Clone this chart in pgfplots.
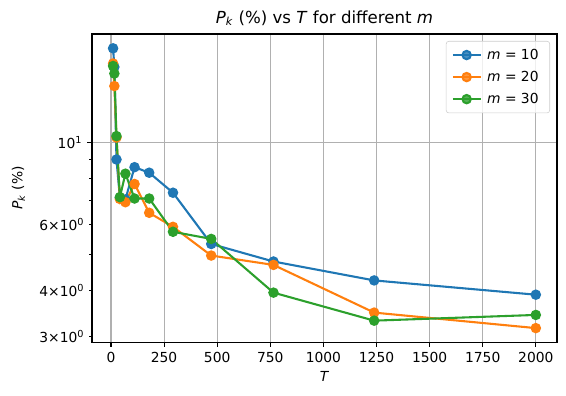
\documentclass[border=0pt]{standalone}
\usepackage{fontspec}
\setmainfont{DejaVu Sans}
\usepackage{pgfplots}
\pgfplotsset{compat=1.18}
\definecolor{cblue}{HTML}{1F77B4}
\definecolor{corange}{HTML}{FF7F0E}
\definecolor{cgreen}{HTML}{2CA02C}
\definecolor{gridgray}{HTML}{B0B0B0}

\begin{document}
\begin{tikzpicture}
\begin{axis}[
    scale only axis,
    width=334.8bp, height=221.8bp,
    xmin=-89.5, xmax=2099.5,
    ymode=log, ymin=2.897, ymax=19.65,
    xtick={0,250,...,2000},
    ytick={10}, yticklabels={10\textsuperscript{1}},
    minor ytick={3,4,5,6,7,8,9},
    extra y ticks={3,4,6},
    extra y tick labels={3\texttimes10\textsuperscript{0},4\texttimes10\textsuperscript{0},6\texttimes10\textsuperscript{0}},
    extra y tick style={grid=none, major tick length=2bp},
    xmajorgrids=true, ymajorgrids=true,
    grid style={color=gridgray, line width=0.8bp},
    tick align=outside, tick pos=left,
    major tick length=3.5bp, minor tick length=2bp,
    every tick/.style={black, line width=0.8bp},
    axis line style={line width=0.8bp},
    ticklabel style={font=\fontsize{10}{12}\selectfont},
    /pgf/number format/assume math mode=true,
    /pgf/number format/1000 sep={},
    title={\textit{P}\textsubscript{\textit{k}} (\%) vs \textit{T} for different \textit{m}},
    title style={font=\fontsize{12}{14}\selectfont, yshift=-3.5bp},
    xlabel={\textit{T}},
    ylabel={\textit{P}\textsubscript{\textit{k}} (\%)},
    label style={font=\fontsize{10}{12}\selectfont},
    every axis plot/.append style={line width=1.5bp, mark=*, mark size=3bp},
    legend style={at={(0.985,0.9775)}, anchor=north east, draw=black!20,
        rounded corners=2pt, fill=white, fill opacity=0.8, text opacity=1,
        font=\fontsize{10}{12}\selectfont, row sep=3bp, inner xsep=4bp, inner ysep=3.5bp,
        nodes={inner xsep=4bp}},
    legend cell align=left,
    legend image code/.code={\draw[mark repeat=2,mark phase=2] plot coordinates {(0bp,0bp)(10bp,0bp)(20bp,0bp)};},
]
\addplot[color=cblue, mark options={fill=cblue, draw=cblue}] coordinates {
    (10,17.98) (16,16.01) (26,9.01) (42,7.11) (68,7.03) (111,8.59)
    (180,8.30) (292,7.33) (472,5.33) (765,4.78) (1239,4.25) (2000,3.89)};
\addplot[color=corange, mark options={fill=corange, draw=corange}] coordinates {
    (10,16.36) (16,14.22) (26,10.33) (42,7.05) (68,6.91) (111,7.74)
    (180,6.47) (292,5.93) (472,4.96) (765,4.68) (1239,3.48) (2000,3.16)};
\addplot[color=cgreen, mark options={fill=cgreen, draw=cgreen}] coordinates {
    (10,16.11) (16,15.37) (26,10.42) (42,7.13) (68,8.25) (111,7.07)
    (180,7.07) (292,5.75) (472,5.50) (765,3.94) (1239,3.31) (2000,3.43)};
\legend{\textit{m} = 10, \textit{m} = 20, \textit{m} = 30}
\end{axis}
\pgfresetboundingbox
\path[use as bounding box] ([xshift=-66.2bp,yshift=-38.2bp]current axis.south west) rectangle ([xshift=6.5bp,yshift=24.5bp]current axis.north east);
\end{tikzpicture}
\end{document}
